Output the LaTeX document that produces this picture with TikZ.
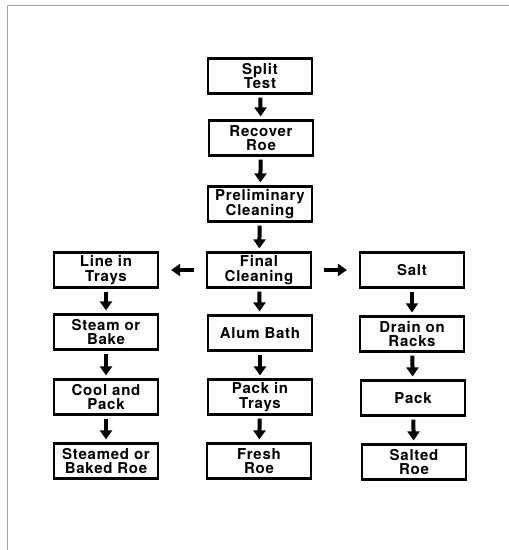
\documentclass[tikz,border=0pt]{standalone}
\usepackage{fontspec}
\setmainfont{TeX Gyre Heros}
\newfontfamily\boxfont[LetterSpace=5]{TeX Gyre Heros}
\usetikzlibrary{arrows.meta}

\begin{document}
\begin{tikzpicture}[x=1pt,y=-1pt,
	block/.style={draw=black, line width=2.2pt, align=center, minimum height=35pt, minimum width=104pt, inner sep=1pt, font=\boxfont\fontsize{15}{14.5}\selectfont\bfseries},
	arr/.style={-{Triangle[length=9pt,width=12pt]}, line width=4pt, shorten <=3pt, shorten >=3pt},
	side/.style={-{Triangle[length=9pt,width=12pt]}, line width=4pt, shorten <=12pt, shorten >=12pt}
	]
	\useasboundingbox (0,0) rectangle (509,550);
	% frame
	\draw[gray!70, line width=1pt] (7,550) -- (7,5) -- (509,5);
	% middle column
	\node[block] (split) at (260,76) {Split\\Test};
	\node[block] (recover) at (261,138) {Recover\\Roe};
	\node[block] (prelim) at (260,204) {Preliminary\\Cleaning};
	\node[block] (final) at (259,270) {Final\\Cleaning};
	\node[block] (alum) at (260,333) {Alum Bath};
	\node[block] (packtr) at (260,397) {Pack in\\Trays};
	\node[block] (fresh) at (259,461) {Fresh\\Roe};
	% left column
	\node[block] (line) at (106,270) {Line in\\Trays};
	\node[block] (steam) at (106,332) {Steam or\\Bake};
	\node[block] (cool) at (106,397) {Cool and\\Pack};
	\node[block] (steamed) at (106,461) {Steamed or\\Baked Roe};
	% right column
	\node[block] (salt) at (412,270) {Salt};
	\node[block] (drain) at (412,334) {Drain on\\Racks};
	\node[block] (pack) at (413,398) {Pack};
	\node[block] (salted) at (414,462) {Salted\\Roe};
	\draw[arr] (split) -- (recover);
	\draw[arr] (recover) -- (prelim);
	\draw[arr] (prelim) -- (final);
	\draw[arr] (final) -- (alum);
	\draw[arr] (alum) -- (packtr);
	\draw[arr] (packtr) -- (fresh);
	\draw[side] (final) -- (line);
	\draw[side] (final) -- (salt);
	\draw[arr] (line) -- (steam);
	\draw[arr] (steam) -- (cool);
	\draw[arr] (cool) -- (steamed);
	\draw[arr] (salt) -- (drain);
	\draw[arr] (drain) -- (pack);
	\draw[arr] (pack) -- (salted);
\end{tikzpicture}
\end{document}
